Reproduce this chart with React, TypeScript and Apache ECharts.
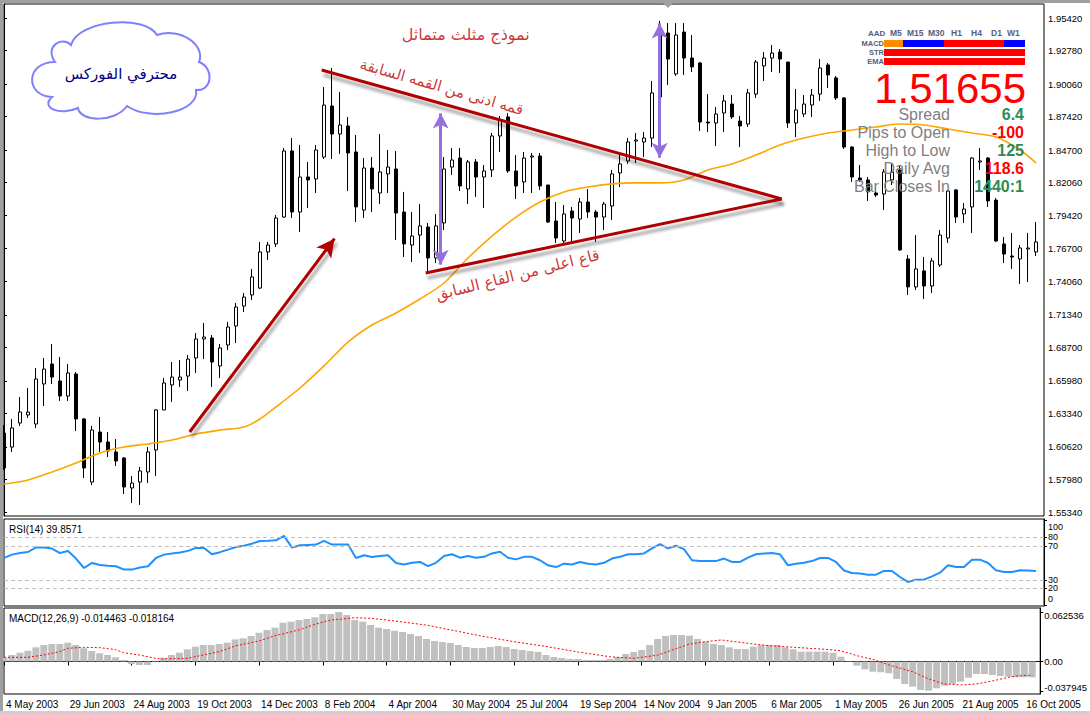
import React, { useEffect, useRef } from 'react';
import * as echarts from 'echarts';

// ---------- DATA ----------
const MONTHS = ['Jan', 'Feb', 'Mar', 'Apr', 'May', 'Jun', 'Jul', 'Aug', 'Sep', 'Oct', 'Nov', 'Dec'];
const START = Date.UTC(2003, 4, 4);
const categories = Array.from({ length: 131 }, (_, k) => {
  const d = new Date(START + k * 7 * 86400000);
  return `${d.getUTCDate()} ${MONTHS[d.getUTCMonth()]} ${d.getUTCFullYear()}`;
});

const opens = [
  1.6175, 1.6061, 1.6256, 1.6321, 1.6248, 1.6573, 1.6735, 1.6597, 1.6475, 1.6654,
  1.6289, 1.5777, 1.6183, 1.6102, 1.6021, 1.5972, 1.5729, 1.5777, 1.5859, 1.6037,
  1.6362, 1.6565, 1.6605, 1.6637, 1.6784, 1.6938, 1.6946, 1.6719, 1.6889, 1.7043,
  1.7205, 1.7295, 1.7351, 1.7644, 1.7709, 1.7927, 1.8463, 1.7968, 1.8252, 1.8236,
  1.8414, 1.8828, 1.8601, 1.8666, 1.8455, 1.7984, 1.8325, 1.8122, 1.8277, 1.8317,
  1.7968, 1.7700, 1.7781, 1.7846, 1.7595, 1.7879, 1.8333, 1.8406, 1.8155, 1.8374,
  1.8252, 1.8309, 1.8585, 1.8739, 1.8301, 1.8212, 1.8414, 1.8422, 1.8187, 1.7895,
  1.7733, 1.7976, 1.7911, 1.8049, 1.7968, 1.7927, 1.8017, 1.8285, 1.8382, 1.8544,
  1.8536, 1.8568, 1.8901, 1.9420, 1.9088, 1.9428, 1.9217, 1.9177, 1.8698, 1.8690,
  1.8771, 1.8844, 1.8706, 1.8682, 1.8925, 1.9153, 1.9217, 1.9266, 1.9185, 1.8690,
  1.8763, 1.8836, 1.8925, 1.9161, 1.9056, 1.8893, 1.8495, 1.8244, 1.8228, 1.8122,
  1.8114, 1.8228, 1.8309, 1.7587, 1.7360, 1.7490, 1.7368, 1.7538, 1.7757, 1.8147,
  1.7952, 1.8009, 1.8374, 1.8406, 1.8065, 1.7709, 1.7611, 1.7587, 1.7668, 1.7644,
];
const closes = [
  1.5891, 1.6216, 1.6345, 1.6345, 1.6613, 1.6694, 1.6629, 1.6475, 1.6662, 1.6289,
  1.5891, 1.6199, 1.6102, 1.6029, 1.5948, 1.5737, 1.5769, 1.5867, 1.6021, 1.6362,
  1.6581, 1.6629, 1.6629, 1.6775, 1.6938, 1.6954, 1.6751, 1.6865, 1.7035, 1.7197,
  1.7278, 1.7441, 1.7644, 1.7700, 1.7919, 1.8463, 1.7968, 1.8252, 1.8228, 1.8471,
  1.8836, 1.8601, 1.8674, 1.8447, 1.8009, 1.8325, 1.8155, 1.8293, 1.8333, 1.7960,
  1.7709, 1.7773, 1.7855, 1.7595, 1.7855, 1.8317, 1.8390, 1.8179, 1.8374, 1.8252,
  1.8301, 1.8585, 1.8715, 1.8301, 1.8179, 1.8406, 1.8422, 1.8179, 1.7887, 1.7757,
  1.7952, 1.7919, 1.8049, 1.7968, 1.7927, 1.8033, 1.8277, 1.8358, 1.8536, 1.8552,
  1.8568, 1.8934, 1.9428, 1.9209, 1.9404, 1.9217, 1.9145, 1.8698, 1.8690, 1.8763,
  1.8869, 1.8739, 1.8666, 1.8934, 1.9185, 1.9217, 1.9258, 1.9209, 1.8690, 1.8796,
  1.8844, 1.8917, 1.9136, 1.9080, 1.8893, 1.8495, 1.8252, 1.8228, 1.8131, 1.8106,
  1.8293, 1.8293, 1.7660, 1.7360, 1.7506, 1.7368, 1.7571, 1.7781, 1.8138, 1.7927,
  1.7992, 1.8406, 1.8382, 1.8058, 1.7733, 1.7627, 1.7603, 1.7676, 1.7676, 1.7725,
];
const lows = [
  1.5875, 1.6021, 1.6232, 1.6297, 1.6216, 1.6394, 1.6573, 1.6435, 1.6435, 1.6191,
  1.5810, 1.5753, 1.6021, 1.5980, 1.5907, 1.5680, 1.5607, 1.5591, 1.5769, 1.5826,
  1.6362, 1.6427, 1.6548, 1.6516, 1.6662, 1.6775, 1.6548, 1.6621, 1.6848, 1.6905,
  1.7157, 1.7254, 1.7343, 1.7579, 1.7684, 1.7919, 1.7919, 1.7806, 1.8001, 1.8122,
  1.8398, 1.8398, 1.8439, 1.8138, 1.7887, 1.7919, 1.7968, 1.8033, 1.8122, 1.7741,
  1.7603, 1.7562, 1.7636, 1.7473, 1.7554, 1.7822, 1.8269, 1.8138, 1.8033, 1.8090,
  1.8001, 1.8252, 1.8455, 1.8285, 1.8074, 1.8122, 1.8122, 1.8147, 1.7879, 1.7717,
  1.7717, 1.7725, 1.7798, 1.7919, 1.7725, 1.7822, 1.7903, 1.8171, 1.8358, 1.8366,
  1.8414, 1.8495, 1.8885, 1.8998, 1.9072, 1.9080, 1.9104, 1.8625, 1.8617, 1.8503,
  1.8617, 1.8723, 1.8495, 1.8658, 1.8893, 1.9031, 1.9104, 1.9096, 1.8650, 1.8576,
  1.8739, 1.8739, 1.8869, 1.8974, 1.8877, 1.8479, 1.8212, 1.8212, 1.8058, 1.8090,
  1.7984, 1.8187, 1.7652, 1.7295, 1.7335, 1.7262, 1.7311, 1.7522, 1.7717, 1.7879,
  1.7879, 1.7798, 1.8309, 1.8009, 1.7725, 1.7554, 1.7506, 1.7384, 1.7400, 1.7611,
];
const highs = [
  1.6240, 1.6289, 1.6467, 1.6540, 1.6702, 1.6784, 1.6897, 1.6792, 1.6735, 1.6670,
  1.6297, 1.6232, 1.6305, 1.6183, 1.6126, 1.5980, 1.5826, 1.5899, 1.6061, 1.6370,
  1.6621, 1.6751, 1.6767, 1.6808, 1.6986, 1.7068, 1.6970, 1.6897, 1.7076, 1.7230,
  1.7311, 1.7506, 1.7725, 1.7725, 1.7944, 1.8487, 1.8568, 1.8512, 1.8374, 1.8512,
  1.8982, 1.9136, 1.8942, 1.8739, 1.8593, 1.8406, 1.8414, 1.8601, 1.8471, 1.8463,
  1.8131, 1.7968, 1.8033, 1.7879, 1.7952, 1.8414, 1.8487, 1.8487, 1.8390, 1.8398,
  1.8349, 1.8609, 1.8747, 1.8771, 1.8430, 1.8455, 1.8447, 1.8447, 1.8187, 1.8049,
  1.8025, 1.8009, 1.8082, 1.8155, 1.7984, 1.8049, 1.8309, 1.8439, 1.8568, 1.8609,
  1.8617, 1.9031, 1.9518, 1.9501, 1.9501, 1.9501, 1.9404, 1.9185, 1.8925, 1.8820,
  1.8917, 1.8917, 1.8747, 1.8966, 1.9201, 1.9266, 1.9323, 1.9290, 1.9185, 1.8966,
  1.8917, 1.8966, 1.9209, 1.9177, 1.9072, 1.8901, 1.8503, 1.8349, 1.8252, 1.8171,
  1.8317, 1.8366, 1.8349, 1.7619, 1.7781, 1.7603, 1.7595, 1.7822, 1.8147, 1.8155,
  1.8041, 1.8414, 1.8487, 1.8414, 1.8082, 1.7765, 1.7798, 1.7700, 1.7798, 1.7887,
];

// moving average read at sampled weeks [week index, price]
const maPoints = [
  [0, 1.5761], [3, 1.5794], [6, 1.5859], [9, 1.5932], [12, 1.6013], [15, 1.6061],
  [18, 1.6086], [21, 1.6118], [24, 1.6167], [27, 1.6199], [30, 1.6224], [32, 1.6289],
  [34, 1.6386], [37, 1.6540], [40, 1.6719], [43, 1.6913], [46, 1.7051], [49, 1.7149],
  [52, 1.7262], [55, 1.7392], [58, 1.7595], [61, 1.7773], [64, 1.7927], [67, 1.8049],
  [70, 1.8131], [73, 1.8171], [76, 1.8196], [79, 1.8204], [82, 1.8204], [85, 1.8228],
  [88, 1.8309], [91, 1.8358], [94, 1.8431], [97, 1.8511], [100, 1.8568], [103, 1.8609],
  [106, 1.8633], [109, 1.8658], [112, 1.8682], [115, 1.8674], [118, 1.8641], [121, 1.8609],
  [124, 1.8576], [127, 1.8471], [129, 1.8366],
];

const priceTicks = [
  1.5534, 1.5798, 1.6062, 1.6334, 1.6598, 1.687, 1.7134, 1.7406,
  1.767, 1.7942, 1.8206, 1.847, 1.8742, 1.9006, 1.9278, 1.9542,
];

const rsiValues = [
  55.7, 59.6, 61.5, 62.7, 68.0, 68.0, 66.7, 61.5, 63.9, 55.0,
  43.9, 49.8, 47.5, 46.5, 45.9, 42.0, 42.0, 44.5, 45.9, 55.7,
  59.6, 61.0, 62.0, 64.0, 67.5, 67.5, 60.0, 62.5, 65.5, 68.6,
  70.0, 72.5, 75.7, 76.0, 76.5, 81.6, 67.8, 70.6, 71.0, 71.4,
  75.7, 71.4, 71.4, 71.4, 55.7, 58.8, 56.9, 58.0, 58.8, 49.8,
  48.0, 50.0, 51.0, 46.0, 50.0, 58.0, 60.0, 56.0, 58.0, 56.0,
  57.0, 61.0, 63.0, 56.0, 54.0, 57.0, 57.0, 53.0, 47.0, 45.0,
  49.0, 48.0, 51.0, 49.0, 48.0, 50.0, 55.0, 57.0, 60.0, 60.0,
  61.0, 67.0, 72.0, 67.0, 70.0, 66.0, 53.0, 52.0, 52.0, 52.0,
  55.0, 51.0, 51.0, 56.0, 60.0, 61.0, 61.5, 60.0, 47.0, 49.0,
  50.0, 52.0, 55.7, 55.7, 51.0, 41.0, 38.0, 37.3, 36.0, 36.0,
  40.4, 40.4, 33.3, 27.5, 30.2, 30.2, 34.0, 38.4, 47.0, 45.0,
  45.0, 53.7, 53.7, 49.8, 41.2, 39.2, 39.2, 41.2, 41.0, 40.5,
];
const rsiLevels = [20, 30, 70, 80];
const rsiTicks = [0, 20, 30, 70, 80, 100];

const macdHist = [
  0.0048, 0.0082, 0.0111, 0.0136, 0.0179, 0.0208, 0.0221, 0.0221, 0.0238, 0.0208,
  0.0167, 0.0133, 0.0104, 0.0082, 0.0053, 0.0019, -0.0032, -0.0044, -0.0044, 0.0010,
  0.0048, 0.0082, 0.0111, 0.0154, 0.0187, 0.0208, 0.0208, 0.0221, 0.0238, 0.0280,
  0.0293, 0.0322, 0.0364, 0.0398, 0.0427, 0.0490, 0.0503, 0.0524, 0.0537, 0.0558,
  0.0600, 0.0600, 0.0625, 0.0587, 0.0524, 0.0503, 0.0461, 0.0427, 0.0411, 0.0389,
  0.0373, 0.0347, 0.0322, 0.0284, 0.0259, 0.0246, 0.0234, 0.0208, 0.0183, 0.0171,
  0.0171, 0.0183, 0.0196, 0.0183, 0.0158, 0.0145, 0.0133, 0.0120, 0.0082, 0.0057,
  0.0044, 0.0032, 0.0032, 0.0019, 0.0019, 0.0019, 0.0032, 0.0057, 0.0095, 0.0120,
  0.0145, 0.0208, 0.0284, 0.0322, 0.0335, 0.0335, 0.0326, 0.0284, 0.0250, 0.0221,
  0.0208, 0.0179, 0.0158, 0.0158, 0.0187, 0.0208, 0.0208, 0.0208, 0.0179, 0.0154,
  0.0124, 0.0124, 0.0124, 0.0124, 0.0111, 0.0061, 0.0006, -0.0053, -0.0099, -0.0129,
  -0.0136, -0.0149, -0.0221, -0.0284, -0.0318, -0.0360, -0.0369, -0.0339, -0.0306, -0.0284,
  -0.0255, -0.0205, -0.0158, -0.0158, -0.0171, -0.0183, -0.0192, -0.0200, -0.0200, -0.0200,
];
const macdSignal = [
  [0, 0.0053], [3, 0.0053], [5, 0.0082], [7, 0.0125], [8, 0.0167], [10, 0.0179],
  [12, 0.0175], [14, 0.015], [15, 0.0111], [17, 0.0082], [19, 0.004], [20, 0.0032],
  [23, 0.004], [24, 0.0061], [27, 0.0124], [29, 0.0196], [32, 0.0259], [34, 0.0326],
  [37, 0.0398], [39, 0.047], [41, 0.0524], [44, 0.0553], [46, 0.0546], [49, 0.0512],
  [53, 0.046], [56, 0.04], [60, 0.032], [64, 0.025], [68, 0.019], [72, 0.012],
  [76, 0.006], [79, 0.004], [82, 0.008], [86, 0.0221], [88, 0.025], [90, 0.0272],
  [91, 0.0259], [94, 0.0221], [96, 0.02], [98, 0.0187], [101, 0.0167], [103, 0.0154],
  [105, 0.0136], [107, 0.0073], [109, 0.0028], [111, -0.0044], [114, -0.0129], [116, -0.0221],
  [118, -0.0284], [120, -0.0297], [122, -0.0284], [124, -0.0246], [126, -0.02], [127, -0.0183],
  [129, -0.0171],
];
const macdTicks = [-0.037945, 0, 0.062536];

// drawn objects on the price chart, in [week position, price]
const upperTrend = [[39.71, 1.912], [97.21, 1.8074]];
const lowerTrend = [[52.71, 1.7473], [97.21, 1.8074]];
const upArrow = [[23.21, 1.6183], [41.31, 1.7752]];
const measure1 = [[54.59, 1.8768], [54.59, 1.7541]];
const measure2 = [[81.96, 1.9498], [81.96, 1.8409]];
const targetLine = [[74.34, 1.9546], [102.71, 1.9546]];
const notes = [
  { text: 'نموذج مثلث متماثل', pos: [57.71, 1.9412], rotate: 0, size: 16 },
  { text: 'قمه ادنى من القمه السابقة', pos: [54.71, 1.8982], rotate: -16, size: 15 },
  { text: 'قاع اعلى من القاع السابق', pos: [64.2, 1.7457], rotate: 14, size: 15.5 },
];

const timeframes = ['M5', 'M15', 'M30', 'H1', 'H4', 'D1', 'W1'];
const infoLabels = ['Spread', 'Pips to Open', 'High to Low', 'Daily Avg', 'Bar Closes In'];
const infoValues = ['6.4', '-100', '125', '118.6', '1440:1'];
const bigQuote = '1.51655';

// ---------- SHAPES ----------
const CLOUD_D =
  'M 55 62 C 44 46 62 36 71 45 C 78 20 145 14 157 35 C 180 27 206 45 199 62 ' +
  'C 215 68 212 92 196 90 C 200 112 150 122 127 106 C 115 123 80 122 78 108 ' +
  'C 60 116 40 108 52 97 C 25 96 25 62 55 62 Z';
let registered = false;
function registerShapes() {
  if (registered) return;
  registered = true;
  echarts.graphic.registerShape('cloud', echarts.graphic.extendPath(CLOUD_D, {}));
}

const LBL = 'Liberation Sans';
const AR = 'DejaVu Sans';

function txt(text: string, x: number, y: number, o: any) {
  return {
    type: 'text', x, y, z: 100, silent: true,
    style: {
      text, fill: o.fill, fontSize: o.size, fontFamily: o.family || LBL,
      fontWeight: o.weight || 'normal', align: o.align || 'left', verticalAlign: 'middle',
      lineHeight: o.lineHeight,
    },
  };
}
function rect(x: number, y: number, w: number, h: number, fill: string) {
  return { type: 'rect', z: 100, silent: true, shape: { x, y, width: w, height: h }, style: { fill } };
}

function buildOption() {
  const candles = opens.map((o, k) => [o, closes[k], lows[k], highs[k]]);
  const shadow = { shadowColor: 'rgba(0,0,0,0.35)', shadowBlur: 3, shadowOffsetX: 2, shadowOffsetY: 5 };
  const seg = (pts: number[][], style: any, symbols: string[], size: any) => [
    { coord: pts[0], symbol: symbols[0], symbolSize: size, lineStyle: style, itemStyle: { color: style.color } },
    { coord: pts[1], symbol: symbols[1], symbolSize: size, itemStyle: { color: style.color } },
  ];
  const red = { color: '#b00000', width: 3, type: 'solid', ...shadow };
  const purple = { color: '#9370db', width: 3, type: 'solid' };
  const navy = { color: '#000080', width: 4, type: [11, 4], ...shadow };

  const tfX = [890, 907, 928, 951, 971, 991, 1007];
  const hdr = '#55607e';
  const graphic: any[] = [
    rect(0, 0, 1090, 3, '#a0a0a0'),
    rect(0, 0, 3, 714, '#a0a0a0'),
    rect(0, 711, 1090, 3, '#d0d0d0'),
    { type: 'polygon', z: 100, silent: true, shape: { points: [[663, 3], [673, 3], [668, 8]] }, style: { fill: '#a0a0a0' } },
    { type: 'cloud', x: 0, y: 0, scaleX: 1, scaleY: 1, z: 100, silent: true, style: { fill: '#fff', stroke: '#8080ff', lineWidth: 2 } },
    txt('محترفي الفوركس', 121, 74, { fill: '#000080', size: 15, family: AR, align: 'center' }),
    txt('RSI(14) 39.8571', 9, 529, { fill: '#000', size: 10 }),
    txt('MACD(12,26,9) -0.014463 -0.018164', 9, 618, { fill: '#000', size: 10 }),
    txt('AAD', 868, 33, { fill: hdr, size: 8, weight: 'bold' }),
    ...timeframes.map((t, k) => txt(t, tfX[k], 33, { fill: hdr, size: 8.5, weight: 'bold' })),
    txt('MACD', 884, 43.5, { fill: hdr, size: 7.5, weight: 'bold', align: 'right', lineHeight: 8 }),
    txt('STR', 884, 52.5, { fill: hdr, size: 7.5, weight: 'bold', align: 'right', lineHeight: 8 }),
    txt('EMA', 884, 61.5, { fill: hdr, size: 7.5, weight: 'bold', align: 'right', lineHeight: 8 }),
    rect(884, 40, 19, 7, '#ff8c00'),
    rect(903, 40, 41, 7, '#0000ff'),
    rect(944, 40, 60, 7, '#ff0000'),
    rect(1004, 40, 21, 7, '#0000ff'),
    rect(884, 49, 141, 7, '#ff0000'),
    rect(884, 58, 141, 7, '#ff0000'),
    txt(bigQuote, 1026, 88, { fill: '#ff0000', size: 42, align: 'right', lineHeight: 32 }),
    ...infoLabels.map((t, k) => txt(t, 950, 114.5 + k * 18, { fill: '#7f7f7f', size: 16, align: 'right', lineHeight: 17 })),
    ...infoValues.map((t, k) =>
      txt(t, 1024, 114.5 + k * 18, {
        fill: k === 1 || k === 3 ? '#ff0000' : '#2e8b57', size: 16, weight: 'bold', align: 'right', lineHeight: 17,
      })),
  ];

  const axLabel = { color: '#000', fontSize: 9.5, fontFamily: LBL };
  const blackLine = { show: true, lineStyle: { color: '#000', width: 1 } };
  const rsiRich = (pad: number[]) => ({ padding: pad, fontSize: 9, fontFamily: LBL, color: '#000', lineHeight: 8 });

  return {
    animation: false,
    backgroundColor: '#fff',
    graphic,
    grid: [
      { left: 4, top: 4, width: 1040, height: 512, show: true, borderColor: '#000', borderWidth: 1, backgroundColor: '#fff' },
      { left: 4, top: 519, width: 1040, height: 87, show: true, borderColor: '#000', borderWidth: 1, backgroundColor: '#fff' },
      { left: 4, top: 608, width: 1040, height: 86, show: true, borderColor: '#000', borderWidth: 1, backgroundColor: '#fff' },
    ],
    xAxis: [
      { type: 'category', gridIndex: 0, data: categories, boundaryGap: false, show: false },
      { type: 'value', gridIndex: 0, min: 0, max: 130, show: false },
      { type: 'category', gridIndex: 1, data: categories, boundaryGap: false, show: false },
      {
        type: 'category', gridIndex: 2, data: categories, boundaryGap: false,
        axisLine: blackLine,
        axisTick: { show: true, interval: 7, length: 4, lineStyle: { color: '#000' } },
        axisLabel: { interval: 7, align: 'left', margin: 5, color: '#000', fontSize: 10, fontFamily: LBL, padding: [0, 0, 0, 2] },
        splitLine: { show: false },
      },
    ],
    yAxis: [
      {
        type: 'value', gridIndex: 0, position: 'right', min: 1.55016, max: 1.96556,
        axisLine: blackLine,
        axisTick: { show: true, length: 3, customValues: priceTicks, lineStyle: { color: '#000' } },
        axisLabel: { ...axLabel, margin: 4, customValues: priceTicks, formatter: (v: number) => v.toFixed(5) },
        splitLine: { show: false },
      },
      {
        type: 'value', gridIndex: 1, position: 'right', min: -0.8, max: 101.5,
        axisLine: blackLine,
        axisTick: { show: true, length: 3, customValues: rsiTicks, lineStyle: { color: '#000' } },
        axisLabel: {
          ...axLabel, fontSize: 9, margin: 4, customValues: rsiTicks, lineHeight: 8,
          formatter: (v: number) =>
            v === 100 ? '{t|100}' : v === 0 ? '{b|0}' : v === 80 ? '{u|80}' : v === 70 ? '{d|70}' : `{n|${v}}`,
          rich: {
            t: rsiRich([13, 0, 0, 0]),
            b: rsiRich([0, 0, 12, 0]),
            u: rsiRich([0, 0, 1, 0]),
            d: rsiRich([1, 0, 0, 0]),
            n: rsiRich([0, 0, 0, 0]),
          },
        },
        splitLine: { show: false },
      },
      {
        type: 'value', gridIndex: 2, position: 'right', min: -0.04106, max: 0.06759,
        axisLine: blackLine,
        axisTick: { show: true, length: 3, customValues: macdTicks, lineStyle: { color: '#000' } },
        axisLabel: {
          ...axLabel, margin: 4, customValues: macdTicks,
          formatter: (v: number) => (v === 0 ? '0.00' : v > 0 ? `{t|${v.toFixed(6)}}` : `{b|${v.toFixed(6)}}`),
          rich: {
            t: { padding: [6, 0, 0, 0], fontSize: 9.5, fontFamily: LBL, color: '#000' },
            b: { padding: [0, 0, 9, 0], fontSize: 9.5, fontFamily: LBL, color: '#000' },
          },
        },
        splitLine: { show: false },
      },
    ],
    series: [
      {
        type: 'candlestick', xAxisIndex: 0, yAxisIndex: 0, data: candles, barWidth: 4, silent: true,
        itemStyle: { color: '#fff', color0: '#000', borderColor: '#000', borderColor0: '#000', borderWidth: 1 },
      },
      {
        type: 'line', xAxisIndex: 0, yAxisIndex: 0, data: maPoints, showSymbol: false, smooth: 0.3, silent: true,
        lineStyle: { color: '#ffa500', width: 1.6 },
      },
      {
        type: 'scatter', xAxisIndex: 1, yAxisIndex: 0, data: [], silent: true,
        markLine: {
          silent: true, animation: false, label: { show: false },
          data: [
            seg(upperTrend, red, ['none', 'none'], 0),
            seg(lowerTrend, red, ['none', 'none'], 0),
            seg(upArrow, red, ['none', 'arrow'], [14, 18]),
            seg(measure1, purple, ['arrow', 'arrow'], [12, 15]),
            seg(measure2, purple, ['arrow', 'arrow'], [12, 15]),
            seg(targetLine, navy, ['none', 'none'], 0),
          ],
        },
      },
      {
        type: 'scatter', xAxisIndex: 1, yAxisIndex: 0, symbolSize: 0, silent: true,
        data: notes.map((n) => ({
          value: n.pos,
          label: {
            show: true, position: 'inside', formatter: n.text, rotate: n.rotate,
            color: '#c00000', fontSize: n.size, fontFamily: AR,
          },
        })),
      },
      {
        type: 'line', xAxisIndex: 2, yAxisIndex: 1, data: rsiValues, showSymbol: false, silent: true,
        lineStyle: { color: '#1e90ff', width: 2 },
        markLine: {
          silent: true, symbol: 'none', label: { show: false }, animation: false,
          lineStyle: { color: '#c0c0c0', type: [4, 3], width: 1 },
          data: rsiLevels.map((v) => ({ yAxis: v })),
        },
      },
      {
        type: 'bar', xAxisIndex: 3, yAxisIndex: 2, data: macdHist, barWidth: 7, silent: true,
        itemStyle: { color: '#c0c0c0' },
      },
      {
        type: 'line', xAxisIndex: 3, yAxisIndex: 2, data: macdSignal, showSymbol: false, silent: true,
        lineStyle: { color: '#ff0000', width: 1, type: [2, 2] },
      },
    ],
  };
}

export default function App() {
  const ref = useRef<HTMLDivElement>(null);
  useEffect(() => {
    if (!ref.current) return;
    registerShapes();
    const chart = echarts.init(ref.current, null, { renderer: 'svg' });
    chart.setOption(buildOption() as any);
    return () => chart.dispose();
  }, []);
  return (
    <div
      ref={ref}
      style={{ position: 'absolute', left: 0, top: 0, width: 1090, height: 714, background: '#fff' }}
    />
  );
}
